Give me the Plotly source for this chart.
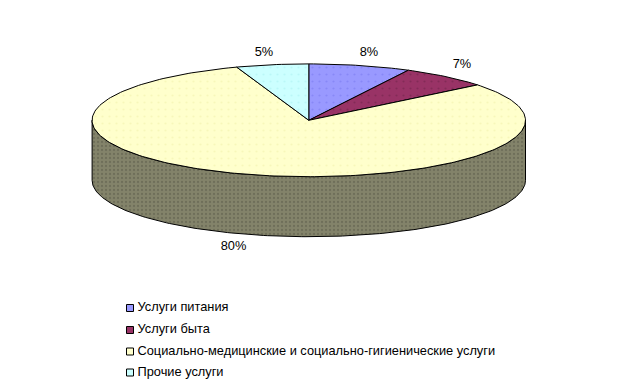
import math
import plotly.graph_objects as go

categories = ["Услуги питания", "Услуги быта", "Социально-медицинские и социально-гигиенические услуги", "Прочие услуги"]
values = [7.6, 6.6, 80.4, 5.4]
labels = ["8%", "7%", "80%", "5%"]
colors = ["#9999FF", "#993366", "#FFFFCC", "#CCFFFF"]
dots = ["#7777EE", "#6E2448", "#F0F0A8", "#A8F0F0"]

OFFSET = 8  # the page's own body margin
W, H = 619 - OFFSET, 390 - OFFSET
CX, CY, RX, RY, DEPTH = 308.8 - OFFSET, 120.3 - OFFSET, 216.7, 56.4, 60.0
TEXT = dict(family="Liberation Sans, Arial, sans-serif", size=12.8, color="#000000")

def ux(p): return (p - OFFSET - CX) / RX
def uy(p): return (CY - (p - OFFSET)) / RY

def arc(a0, a1, n=90):
    xs, ys = [], []
    for i in range(n + 1):
        t = math.radians(a0 + (a1 - a0) * i / n)
        xs.append(math.sin(t)); ys.append(math.cos(t))
    return xs, ys

fig = go.Figure()

# side wall
xs, ys = arc(90, 270, 180)
d = DEPTH / RY
fig.add_trace(go.Scatter(
    x=xs + xs[::-1] + [xs[0]], y=ys + [v - d for v in ys[::-1]] + [ys[0]],
    mode="lines", fill="toself", line=dict(color="black", width=1),
    fillcolor="#7f7f66",
    fillpattern=dict(shape=".", size=4, solidity=0.25, fgcolor="#5a5a48", bgcolor="#83836a"),
    hoverinfo="skip", showlegend=False))

# top wedges
start = 0.0
total = sum(values)
for cat, v, c, dc in zip(categories, values, colors, dots):
    a1 = start + 360 * v / total
    n = max(8, int(v * 3))
    ax, ay = arc(start, a1, n)
    fig.add_trace(go.Scatter(
        x=[0] + ax + [0], y=[0] + ay + [0], mode="lines", fill="toself",
        line=dict(color="black", width=1), fillcolor=c,
        fillpattern=dict(shape=".", size=7, solidity=0.08, fgcolor=dc, bgcolor=c),
        name=cat, hoverinfo="name", showlegend=False))
    start = a1

# percentage labels
label_px = [(369, 53), (462, 64.5), (233.5, 247), (264, 53)]
fig.add_trace(go.Scatter(
    x=[ux(p[0]) for p in label_px], y=[uy(p[1]) for p in label_px],
    mode="text", text=labels, textfont=TEXT, textposition="middle center",
    hoverinfo="skip", showlegend=False))

# legend
leg_y = [308, 330, 351.5, 372.5]
fig.add_trace(go.Scatter(
    x=[ux(130)] * 4, y=[uy(p) for p in leg_y], mode="markers",
    marker=dict(symbol="square", size=7, color=colors, line=dict(color="black", width=1)),
    hoverinfo="skip", showlegend=False))
fig.add_trace(go.Scatter(
    x=[ux(137.5)] * 4, y=[uy(p) for p in leg_y], mode="text",
    text=categories, textfont=TEXT, textposition="middle right",
    hoverinfo="skip", showlegend=False))

fig.update_layout(
    width=W, height=H, autosize=False,
    margin=dict(l=0, r=0, t=0, b=0),
    paper_bgcolor="white", plot_bgcolor="white",
    xaxis=dict(range=[ux(OFFSET), ux(W + OFFSET)], visible=False, fixedrange=True),
    yaxis=dict(range=[uy(H + OFFSET), uy(OFFSET)], visible=False, fixedrange=True),
    showlegend=False,
)
fig.write_html("out.html", config={"displayModeBar": False})
